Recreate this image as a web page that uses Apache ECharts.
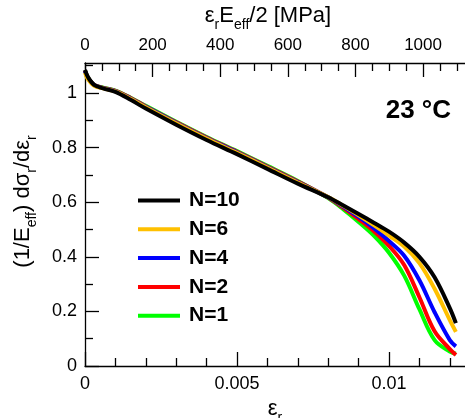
<!DOCTYPE html>
<html><head><meta charset="utf-8">
<script src="https://cdn.jsdelivr.net/npm/echarts@6/dist/echarts.min.js"></script>
<style>html,body{margin:0;padding:0;background:#fff}#c{width:465px;height:418px}</style>
</head><body><div id="c"></div>
<script>
// ---- data ----
const strain = [0, 0.0001, 0.0003, 0.0006, 0.001, 0.0015, 0.002, 0.003, 0.004, 0.005, 0.006, 0.007, 0.008, 0.0085, 0.009, 0.0095, 0.01, 0.0105, 0.011, 0.0115, 0.012, 0.0122];
const n10 = [1.085, 1.058, 1.030, 1.017, 1.004, 0.975, 0.943, 0.884, 0.828, 0.776, 0.722, 0.668, 0.618, 0.588, 0.557, 0.525, 0.492, 0.452, 0.400, 0.325, 0.212, 0.157];
const n6  = [1.075, 1.050, 1.027, 1.017, 1.006, 0.979, 0.948, 0.889, 0.833, 0.781, 0.727, 0.672, 0.619, 0.586, 0.552, 0.516, 0.478, 0.438, 0.377, 0.283, 0.168, 0.125];
const n4  = [1.080, 1.054, 1.029, 1.018, 1.007, 0.980, 0.950, 0.891, 0.835, 0.783, 0.729, 0.674, 0.618, 0.583, 0.546, 0.505, 0.458, 0.404, 0.314, 0.197, 0.095, 0.072];
const n2  = [1.082, 1.056, 1.030, 1.019, 1.008, 0.982, 0.951, 0.893, 0.837, 0.785, 0.731, 0.676, 0.617, 0.579, 0.538, 0.494, 0.440, 0.370, 0.252, 0.127, 0.062, 0.040];
const n1  = [1.082, 1.056, 1.030, 1.020, 1.009, 0.983, 0.953, 0.895, 0.839, 0.787, 0.733, 0.678, 0.615, 0.574, 0.528, 0.478, 0.415, 0.331, 0.208, 0.095, 0.053, 0.045];
const seriesNames = ['N=10', 'N=6', 'N=4', 'N=2', 'N=1'];
const xMajor = [0, 0.005, 0.01];
const xMinor = [0.001, 0.002, 0.003, 0.004, 0.006, 0.007, 0.008, 0.009, 0.011, 0.012];
const topMajor = [0, 200, 400, 600, 800, 1000];
const topMinor = [50, 100, 150, 250, 300, 350, 450, 500, 550, 650, 700, 750, 850, 900, 950, 1050, 1100];
const yMajor = [0, 0.2, 0.4, 0.6, 0.8, 1];
const yMinor = [0.1, 0.3, 0.5, 0.7, 0.9, 1.1];
const tempLabel = '23 °C';

// ---- chart ----
const FONT = 'Arial, "Liberation Sans", Helvetica, sans-serif';
const colors = {'N=10': '#000000', 'N=6': '#FFC000', 'N=4': '#0000FF', 'N=2': '#FF0000', 'N=1': '#00FF00'};
const values = {'N=10': n10, 'N=6': n6, 'N=4': n4, 'N=2': n2, 'N=1': n1};
const rich = {
  n: {fontSize: 22, fontFamily: FONT, color: '#000', verticalAlign: 'top', lineHeight: 27},
  s: {fontSize: 14, fontFamily: FONT, color: '#000', verticalAlign: 'bottom', lineHeight: 27}
};
const XMAX = 0.0125, TOPMAX = 1124, YMAX = 1.11;
const line = {lineStyle: {color: '#000', width: 1.3}, onZero: false};
const fmt = v => String(v);
function majorAxis(extra) {
  return Object.assign({
    type: 'value', axisLine: Object.assign({show: true}, line), splitLine: {show: false}
  }, extra);
}
function minorAxis(extra) {
  return Object.assign({
    type: 'value', axisLine: {show: false, onZero: false}, splitLine: {show: false},
    axisLabel: {show: false}
  }, extra);
}
function ticks(len, vals) { return {inside: true, length: len, customValues: vals, lineStyle: {color: '#000', width: 1.3}}; }
function labels(size, margin, vals) { return {color: '#000', fontSize: size, fontFamily: FONT, margin: margin, customValues: vals, formatter: fmt}; }
const chart = echarts.init(document.getElementById('c'), null, {renderer: 'canvas'});
const order = ['N=1', 'N=2', 'N=4', 'N=6', 'N=10'];
chart.setOption({
  animation: false,
  backgroundColor: '#fff',
  title: {text: tempLabel, right: 9, top: 93, textStyle: {fontSize: 26, fontWeight: 'bold', fontFamily: FONT, color: '#000'}},
  grid: {left: 85, right: 0, top: 63, bottom: 52, containLabel: false, outerBoundsMode: 'none'},
  legend: {
    data: seriesNames, orient: 'vertical', left: 133, top: 185,
    icon: 'rect', itemWidth: 42, itemHeight: 4, itemGap: 7.8,
    textStyle: {fontSize: 21, fontWeight: 'bold', fontFamily: FONT, color: '#000', lineHeight: 20, padding: [0, 0, 0, 4]}
  },
  xAxis: [
    majorAxis({position: 'bottom', min: 0, max: XMAX, axisTick: ticks(14, xMajor), axisLabel: labels(18, 9, xMajor),
      name: '{n|ε}{s|r}', nameLocation: 'middle', nameGap: 27, nameTextStyle: {rich: rich}}),
    minorAxis({position: 'bottom', min: 0, max: XMAX, axisTick: ticks(8, xMinor)}),
    majorAxis({position: 'top', min: 0, max: TOPMAX, axisTick: ticks(14, topMajor), axisLabel: labels(17, 9, topMajor),
      name: '{n|ε}{s|r}{n|E}{s|eff}{n|/2 [MPa]}', nameLocation: 'middle', nameGap: 31,
      nameTextStyle: {rich: rich, padding: [0, 14, 0, 0]}}),
    minorAxis({position: 'top', min: 0, max: TOPMAX, axisTick: ticks(8, topMinor)})
  ],
  yAxis: [
    majorAxis({position: 'left', min: 0, max: YMAX, axisTick: ticks(14, yMajor), axisLabel: labels(18, 8, yMajor),
      name: '{n|(1/E}{s|eff}{n|) dσ}{s|r}{n|/dε}{s|r}', nameLocation: 'middle', nameRotate: 90, nameGap: 46,
      nameTextStyle: {rich: rich, padding: [0, 0, 0, 26]}}),
    minorAxis({position: 'left', min: 0, max: YMAX, axisTick: ticks(8, yMinor)})
  ],
  series: order.map(n => ({
    name: n, type: 'line', xAxisIndex: 0, yAxisIndex: 0,
    data: strain.map((s, i) => [s, values[n][i]]),
    symbol: 'none', smooth: 0.35,
    lineStyle: {color: colors[n], width: 4},
    itemStyle: {color: colors[n]}
  }))
});
</script></body></html>
